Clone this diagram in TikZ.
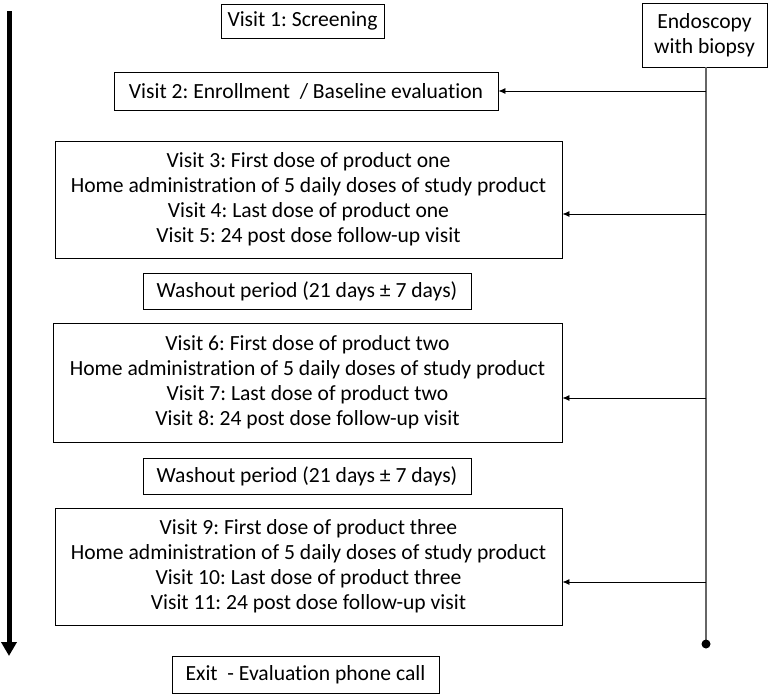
\documentclass[tikz,border=0pt]{standalone}
\usepackage{fontspec}
\setmainfont{Carlito}[Ligatures=NoCommon]
\usepackage{tikz}
\usetikzlibrary{arrows.meta}

\begin{document}
\frenchspacing
\begin{tikzpicture}[x=1pt,y=-1pt,>={Latex[length=7pt,width=6pt]},font=\fontsize{21.6}{25}\selectfont,
  visit/.style={draw,line width=0.9pt,align=center,inner sep=0pt},
  link/.style={->,line width=0.8pt}]
  \useasboundingbox (0,0) rectangle (770,696);
  % time axis
  \draw[line width=5pt,-{Triangle[length=14pt,width=15pt]}] (9,11) -- (9,656);
  % the visits
  \node[visit,minimum width=163pt,minimum height=34pt] (v1) at (302.5,21) {Visit 1: Screening};
  \node[visit,minimum width=384pt,minimum height=38pt] (v2) at (306,91) {Visit 2: Enrollment~ / Baseline evaluation};
  \node[visit,minimum width=507pt,minimum height=117pt] (p1) at (308.5,199.5)
    {Visit 3: First dose of product one\\Home administration of 5 daily doses of study product\\Visit 4: Last dose of product one\\Visit 5: 24 post dose follow-up visit};
  \node[visit,minimum width=328pt,minimum height=36pt] (w1) at (307,291.5) {Washout period (21 days ± 7 days)};
  \node[visit,minimum width=509pt,minimum height=119pt] (p2) at (307.5,382.5)
    {Visit 6: First dose of product two\\Home administration of 5 daily doses of study product\\Visit 7: Last dose of product two\\Visit 8: 24 post dose follow-up visit};
  \node[visit,minimum width=328pt,minimum height=36pt] (w2) at (307,476) {Washout period (21 days ± 7 days)};
  \node[visit,minimum width=507pt,minimum height=117pt] (p3) at (308.5,566.5)
    {Visit 9: First dose of product three\\Home administration of 5 daily doses of study product\\Visit 10: Last dose of product three\\Visit 11: 24 post dose follow-up visit};
  \node[visit,minimum width=267pt,minimum height=37pt] (exit) at (305.5,674.5) {Exit~ - Evaluation phone call};
  % endoscopy line
  \node[visit,minimum width=125pt,minimum height=64pt] (endo) at (704.5,35) {Endoscopy\\with biopsy};
  \coordinate (e2) at (706,91);
  \coordinate (e3) at (706,214);
  \coordinate (e6) at (706,398);
  \coordinate (e9) at (706,582);
  \coordinate (stop) at (706,644);
  \draw[gray!80!black,line width=1.3pt] (endo.south -| stop) -- (stop);
  \fill (stop) circle (4.5pt);
  \draw[link] (e2) -- (v2.east);
  \draw[link] (e3) -- (e3 -| p1.east);
  \draw[link] (e6) -- (e6 -| p2.east);
  \draw[link] (e9) -- (e9 -| p3.east);
\end{tikzpicture}
\end{document}
